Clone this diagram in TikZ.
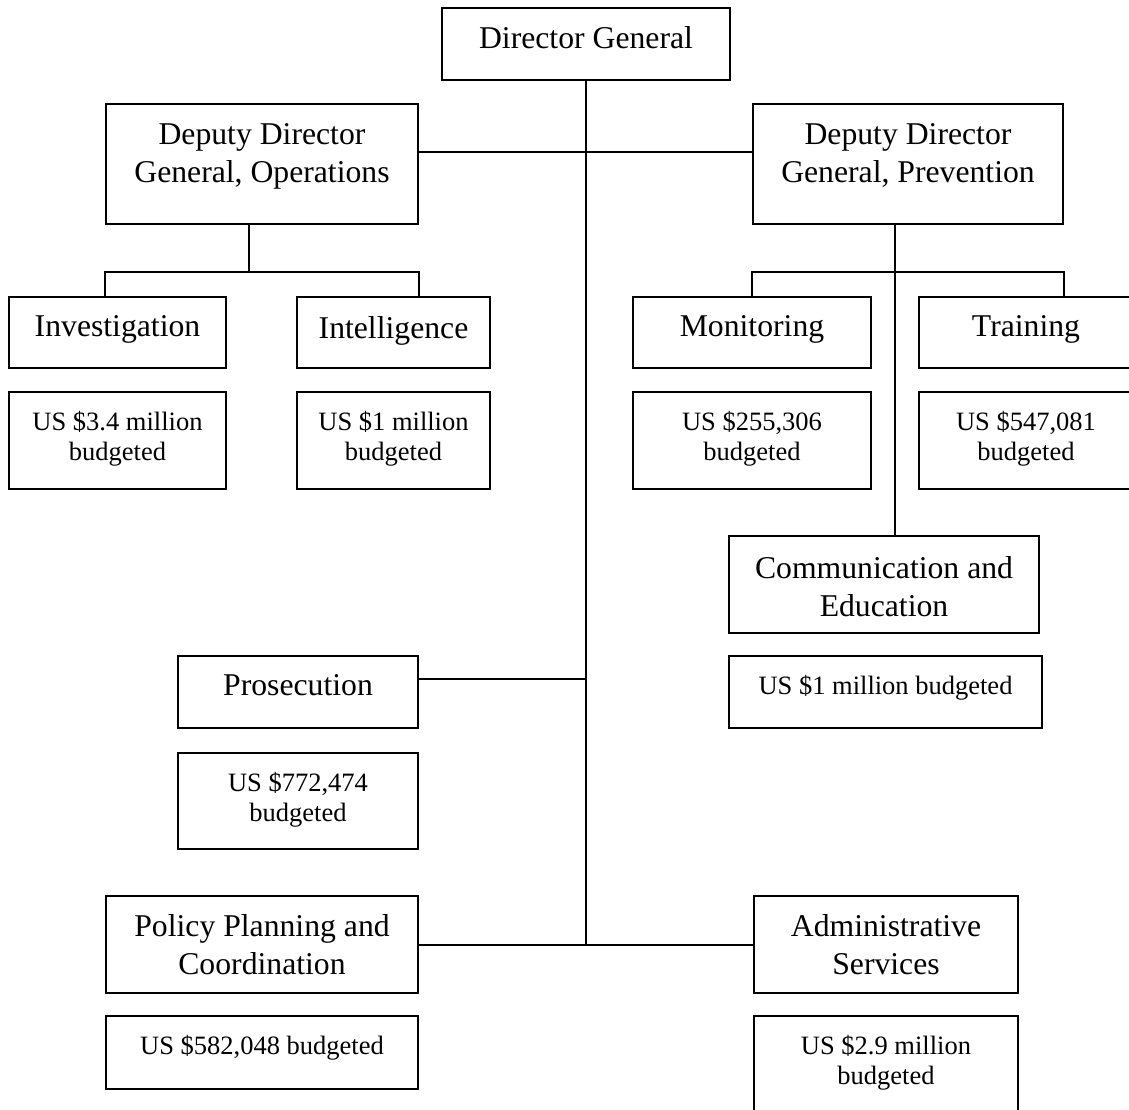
\documentclass[tikz,border=0pt]{standalone}
\usepackage{fontspec}
\setmainfont{Liberation Serif}
\usetikzlibrary{positioning}

\begin{document}
\begin{tikzpicture}[x=1pt,y=-1pt,line width=2pt,
  box/.style={draw,anchor=north west,inner sep=0pt},
  boxtext/.style={align=center,inner sep=0pt,font=\fontsize{31.7}{38}\selectfont},
  budgettext/.style={align=center,inner sep=0pt,font=\fontsize{26.5}{30}\selectfont}]
\clip (0,0) rectangle (1129,1109);

% top of the chart
\node[box,minimum width=288,minimum height=72] (dg) at (441,7) {};
\node[boxtext,below=19pt of dg.north] (dg-t) {Director General};
\node[box,minimum width=312,minimum height=120] (ops) at (105,103) {};
\node[boxtext,below=20pt of ops.north] (ops-t) {Deputy Director\\General, Operations};
\node[box,minimum width=310,minimum height=120] (prev) at (752,103) {};
\node[boxtext,below=20pt of prev.north] (prev-t) {Deputy Director\\General, Prevention};

% operations
\node[box,minimum width=217,minimum height=71] (inv) at (8,296) {};
\node[boxtext,below=19pt of inv.north] (inv-t) {Investigation};
\node[box,minimum width=217,minimum height=97] (invb) at (8,391) {};
\node[budgettext,below=19pt of invb.north] (invb-t) {US \$3.4 million\\budgeted};
\node[box,minimum width=193,minimum height=71] (int) at (296,296) {};
\node[boxtext,below=19pt of int.north] (int-t) {Intelligence};
\node[box,minimum width=193,minimum height=97] (intb) at (296,391) {};
\node[budgettext,below=19pt of intb.north] (intb-t) {US \$1 million\\budgeted};

% prevention
\node[box,minimum width=238,minimum height=71] (mon) at (632,296) {};
\node[boxtext,below=19pt of mon.north] (mon-t) {Monitoring};
\node[box,minimum width=238,minimum height=97] (monb) at (632,391) {};
\node[budgettext,below=19pt of monb.north] (monb-t) {US \$255,306\\budgeted};
\node[box,minimum width=214,minimum height=71] (train) at (918,296) {};
\node[boxtext,below=19pt of train.north] (train-t) {Training};
\node[box,minimum width=214,minimum height=97] (trainb) at (918,391) {};
\node[budgettext,below=19pt of trainb.north] (trainb-t) {US \$547,081\\budgeted};
\node[box,minimum width=310,minimum height=97] (comm) at (728,535) {};
\node[boxtext,below=20pt of comm.north] (comm-t) {Communication and\\Education};
\node[box,minimum width=313,minimum height=72] (commb) at (728,655) {};
\node[budgettext,below=19pt of commb.north] (commb-t) {US \$1 million budgeted};

% units under the director general
\node[box,minimum width=240,minimum height=72] (pros) at (177,655) {};
\node[boxtext,below=18pt of pros.north] (pros-t) {Prosecution};
\node[box,minimum width=240,minimum height=96] (prosb) at (177,752) {};
\node[budgettext,below=19pt of prosb.north] (prosb-t) {US \$772,474\\budgeted};
\node[box,minimum width=312,minimum height=97] (pol) at (105,895) {};
\node[boxtext,below=18pt of pol.north] (pol-t) {Policy Planning and\\Coordination};
\node[box,minimum width=312,minimum height=73] (polb) at (105,1015) {};
\node[budgettext,below=19pt of polb.north] (polb-t) {US \$582,048 budgeted};
\node[box,minimum width=264,minimum height=97] (adm) at (753,895) {};
\node[boxtext,below=18pt of adm.north] (adm-t) {Administrative\\Services};
\node[box,minimum width=264,minimum height=120] (admb) at (753,1015) {};
\node[budgettext,below=19pt of admb.north] (admb-t) {US \$2.9 million\\budgeted};

% lines
\coordinate (ddg) at (585,152);
\coordinate (prosj) at (585,679);
\coordinate (opsfork) at (249,272);
\coordinate (prevfork) at (895,272);

\draw (dg.south) -- (dg.south |- pol.east);
\draw (ops.east |- ddg) -- (prev.west |- ddg);
\draw (pros.east |- prosj) -- (prosj);
\draw (pol.east) -- (adm.west);
\draw (ops.south -| opsfork) -- (opsfork);
\draw (inv.north -| ops.west) |- (opsfork) -| (int.north -| ops.east);
\draw (prev.south -| prevfork) -- (comm.north -| prevfork);
\draw (mon.north -| prev.west) |- (prevfork) -| (train.north -| prev.east);
\end{tikzpicture}
\end{document}
